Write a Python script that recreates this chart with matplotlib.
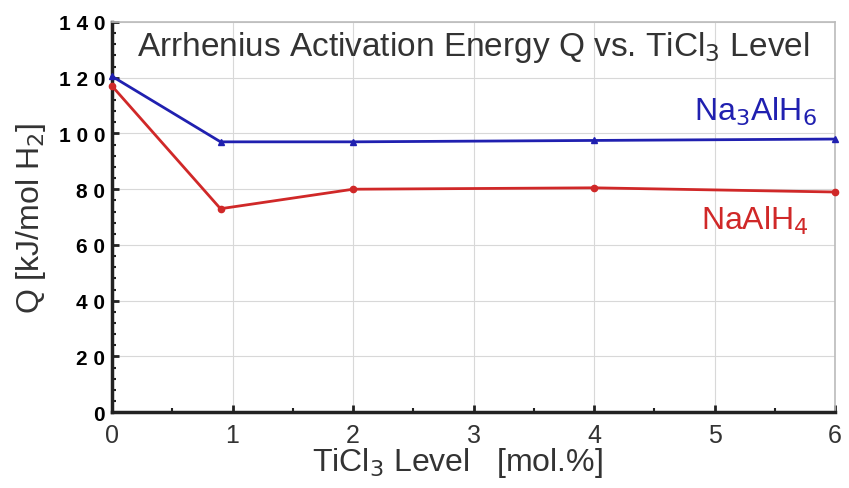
import matplotlib
matplotlib.use('Agg')
from matplotlib import pyplot as plt
from matplotlib.ticker import MultipleLocator

# TiCl3 doping level [mol.%]
ticl3_level = [0, 0.9, 2, 4, 6]
# activation energy Q [kJ/mol H2]
q_na3alh6 = [120.5, 97, 97, 97.5, 98]
q_naalh4 = [117, 73, 80, 80.5, 79]

BLUE = '#2020b0'
RED = '#d02828'

plt.rcParams['font.family'] = ['Liberation Sans', 'DejaVu Sans']

fig = plt.figure(figsize=(8.49, 4.89), dpi=100)
ax = fig.add_axes([0.132, 0.155, 0.8515, 0.798])

ax.plot(ticl3_level, q_na3alh6, color=BLUE, lw=2, marker='^', ms=5, clip_on=False, zorder=3)
ax.plot(ticl3_level, q_naalh4, color=RED, lw=2, marker='o', ms=4.5, clip_on=False, zorder=3)

ax.set_xlim(0, 6)
ax.set_ylim(0, 140)
ax.xaxis.set_major_locator(MultipleLocator(1))
ax.xaxis.set_minor_locator(MultipleLocator(0.5))
ax.yaxis.set_major_locator(MultipleLocator(20))
ax.yaxis.set_minor_locator(MultipleLocator(4))
ax.grid(True, which='major', color='#d8d8d8', lw=0.8)

for side in ['left', 'bottom']:
    ax.spines[side].set_linewidth(2.5)
    ax.spines[side].set_color('#222222')
for side in ['top', 'right']:
    ax.spines[side].set_linewidth(1.2)
    ax.spines[side].set_color('#bbbbbb')

ax.tick_params(which='major', direction='in', length=5, width=2, color='#222222')
ax.tick_params(which='minor', direction='in', length=3, width=1.5, color='#222222')
ax.tick_params(axis='y', labelsize=15, pad=5)
ax.tick_params(axis='x', labelsize=18, pad=8, labelcolor='#333333')
ax.set_yticks(range(0, 141, 20))
ax.set_yticklabels([' '.join(str(v)) for v in range(0, 141, 20)], fontweight='bold')

ax.set_xlabel('TiCl$_3$ Level   [mol.%]', fontsize=23, labelpad=0, color='#333333')
ax.xaxis.set_label_coords(0.478, -0.085)
ax.set_ylabel('Q [kJ/mol H$_2$]', fontsize=23, labelpad=8, color='#333333')

ax.text(0.5, 0.936, 'Arrhenius Activation Energy Q vs. TiCl$_3$ Level',
        transform=ax.transAxes, ha='center', va='center', fontsize=24, color='#333333')
ax.text(5.85, 108, 'Na$_3$AlH$_6$', color=BLUE, fontsize=23, ha='right', va='center')
ax.text(5.78, 69, 'NaAlH$_4$', color=RED, fontsize=23, ha='right', va='center')

fig.savefig('out.png', dpi=100)
